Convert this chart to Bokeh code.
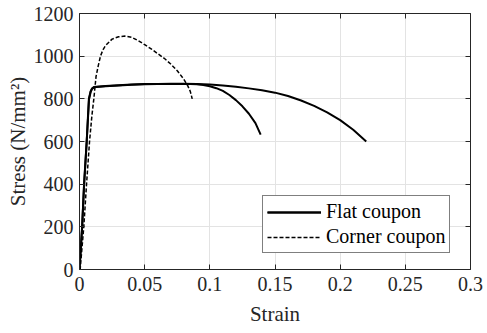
from bokeh.plotting import figure
from bokeh.models import (LinearAxis, FixedTicker, CustomJSTickFormatter,
                          Legend, LegendItem, Range1d)
from bokeh.embed import file_html
from bokeh.resources import INLINE

# Flat coupon, specimen A (longer elongation)
flat_a_strain = [0, 0.001, 0.002, 0.0035, 0.0055, 0.0072, 0.0085, 0.0095, 0.011, 0.013,
                 0.02, 0.03, 0.04, 0.05, 0.06, 0.07, 0.08, 0.09, 0.10, 0.11, 0.12, 0.13,
                 0.14, 0.15, 0.16, 0.17, 0.18, 0.19, 0.20, 0.21, 0.22]
flat_a_stress = [0, 100, 200, 400, 600, 800, 835, 848, 855, 857,
                 860, 864, 867, 869, 870, 871, 871, 869, 867, 863, 857, 849,
                 840, 829, 813, 792, 767, 737, 700, 655, 600]

# Flat coupon, specimen B (earlier fracture)
flat_b_strain = [0, 0.001, 0.002, 0.0035, 0.0055, 0.0073, 0.0086, 0.0096, 0.011, 0.013,
                 0.02, 0.03, 0.04, 0.05, 0.06, 0.07, 0.08, 0.085, 0.09, 0.095, 0.10,
                 0.105, 0.11, 0.115, 0.12, 0.125, 0.13, 0.135, 0.139]
flat_b_stress = [0, 95, 195, 395, 595, 798, 833, 846, 853, 856,
                 859, 863, 866, 868, 869, 870, 870, 869, 868, 865, 859,
                 850, 837, 818, 794, 765, 730, 686, 632]

# Corner coupon
corner_strain = [0, 0.0005, 0.0033, 0.0054, 0.0077, 0.0095, 0.011, 0.0127, 0.0145, 0.0161,
                 0.018, 0.020, 0.025, 0.030, 0.035, 0.040, 0.045, 0.050, 0.055, 0.060,
                 0.065, 0.070, 0.075, 0.080, 0.083, 0.085, 0.0865]
corner_stress = [0, 0, 200, 400, 600, 720, 800, 905, 958, 1000,
                 1030, 1050, 1080, 1091, 1094, 1088, 1073, 1054, 1034, 1012,
                 990, 963, 932, 892, 862, 835, 800]

x_ticks = [0, 0.05, 0.1, 0.15, 0.2, 0.25, 0.3]
y_ticks = [0, 200, 400, 600, 800, 1000, 1200]

FONT = "Liberation Serif"
AXIS_COLOR = "#262626"

p = figure(width=487, height=333, frame_width=391, frame_height=256,
           output_backend="svg", toolbar_location=None,
           x_range=Range1d(0, 0.3), y_range=Range1d(0, 1200),
           x_axis_label="Strain", y_axis_label="Stress (N/mm²)",
           min_border_left=79, min_border_right=17,
           min_border_top=13, min_border_bottom=64)
p.outline_line_color = None
p.background_fill_color = "white"

fmt = CustomJSTickFormatter(code="return String(Math.round(tick * 1000) / 1000);")
blank = CustomJSTickFormatter(code="return '';")

for ax in p.xaxis:
    ax.ticker = FixedTicker(ticks=x_ticks)
    ax.formatter = fmt
for ax in p.yaxis:
    ax.ticker = FixedTicker(ticks=y_ticks)

for ax in list(p.xaxis) + list(p.yaxis):
    ax.axis_line_color = AXIS_COLOR
    ax.major_tick_line_color = AXIS_COLOR
    ax.major_tick_in = 5
    ax.major_tick_out = 0
    ax.minor_tick_line_color = None
    ax.major_label_text_font = FONT
    ax.major_label_text_font_size = "20px"
    ax.major_label_text_color = "#262626"
    ax.axis_label_text_font = FONT
    ax.axis_label_text_font_size = "21px"
    ax.axis_label_text_font_style = "normal"
    ax.axis_label_text_color = "#262626"

p.xaxis.major_label_standoff = 7
p.xaxis.axis_label_standoff = 8
p.yaxis.major_label_standoff = 6
p.yaxis.axis_label_standoff = 1

# Box frame: unlabeled axes on top and right with inward ticks
top_ax = LinearAxis(ticker=FixedTicker(ticks=x_ticks), formatter=blank,
                    axis_line_color=AXIS_COLOR, major_tick_line_color=AXIS_COLOR,
                    major_tick_in=5, major_tick_out=0, minor_tick_line_color=None,
                    major_label_standoff=0)
right_ax = LinearAxis(ticker=FixedTicker(ticks=y_ticks), formatter=blank,
                      axis_line_color=AXIS_COLOR, major_tick_line_color=AXIS_COLOR,
                      major_tick_in=5, major_tick_out=0, minor_tick_line_color=None,
                      major_label_standoff=0)
p.add_layout(top_ax, "above")
p.add_layout(right_ax, "right")

p.xgrid.ticker = FixedTicker(ticks=x_ticks)
p.ygrid.ticker = FixedTicker(ticks=y_ticks)
p.xgrid.grid_line_color = "#e3e3e3"
p.ygrid.grid_line_color = "#e3e3e3"

ra = p.line(flat_a_strain, flat_a_stress, line_color="black", line_width=2)
rb = p.line(flat_b_strain, flat_b_stress, line_color="black", line_width=2)
rc = p.line(corner_strain, corner_stress, line_color="black", line_width=1.5,
            line_dash="4 2")

legend = Legend(items=[LegendItem(label="Flat coupon", renderers=[ra, rb]),
                       LegendItem(label="Corner coupon", renderers=[rc])],
                location=(183, 16))
legend.border_line_color = "black"
legend.border_line_width = 1
legend.background_fill_color = "white"
legend.background_fill_alpha = 1
legend.label_text_font = FONT
legend.label_text_font_size = "20px"
legend.label_text_color = "black"
legend.glyph_width = 54
legend.glyph_height = 22
legend.label_height = 22
legend.label_standoff = 5
legend.padding = 4
legend.spacing = 2
legend.margin = 0
p.add_layout(legend, "center")

open("out.html", "w").write(file_html(p, INLINE))
